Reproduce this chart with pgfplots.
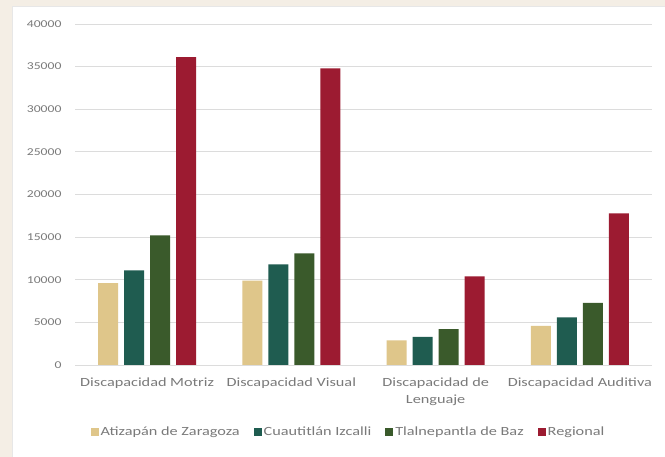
\documentclass[border=0pt]{standalone}
\usepackage{pgfplots}
\pgfplotsset{compat=1.18}
\usepackage{fontspec}
\setmainfont[FakeStretch=1.3]{Carlito}
\definecolor{cAtiz}{HTML}{DFC68A}
\definecolor{cCuau}{HTML}{1F5C50}
\definecolor{cTlal}{HTML}{3A5A2B}
\definecolor{cReg}{HTML}{9C1B31}
\definecolor{txt}{HTML}{7A7A7A}
\definecolor{gridc}{HTML}{DCDCDC}
\definecolor{bg}{HTML}{F4EEE5}
\begin{document}
\begin{tikzpicture}
\useasboundingbox (-75bp,-92bp) rectangle (590bp,365bp);
\fill[bg] (-75bp,-92bp) rectangle (590bp,365bp);
\fill[white] (-63bp,-92bp) rectangle (590bp,359bp);
\draw[gridc!70!white] (-63bp,-91.5bp) -- (-63bp,359bp) -- (590bp,359bp);
\begin{axis}[
  at={(0bp,0bp)}, anchor=south west,
  scale only axis,
  width=577bp, height=341bp,
  xmin=-0.5, xmax=3.5,
  ymin=0, ymax=40000,
  ytick={0,5000,...,40000},
  scaled y ticks=false,
  xtick={0,1,2,3},
  xticklabels={Discapacidad Motriz, Discapacidad Visual, {Discapacidad de\\Lenguaje}, Discapacidad Auditiva},
  xticklabel style={align=center, font=\fontsize{12.5bp}{17bp}\selectfont, text=txt, yshift=-9bp},
  yticklabel style={font=\fontsize{10.5bp}{12bp}\selectfont, text=txt, xshift=-10bp},
  /pgf/number format/.cd, 1000 sep={}, assume math mode=true, /pgfplots/.cd,
  major tick length=0pt,
  xmajorgrids=false,
  ymajorgrids=true,
  grid style={draw=gridc, line width=0.8bp},
  axis line style={draw=none},
  axis x line*=bottom,
  axis y line*=left,
  ybar=6bp,
  bar width=20bp,
  legend columns=4,
  legend style={at={(0.5,0)}, anchor=center, xshift=-15bp, yshift=-67bp, draw=none, fill=none,
    font=\fontsize{12.5bp}{14bp}\selectfont, text=txt,
    /tikz/every even column/.append style={column sep=12bp}},
  legend image code/.code={\fill[#1] (0bp,-4bp) rectangle (8bp,4bp);},
]
\addplot[fill=cAtiz, draw=none] coordinates {(0,9600) (1,9900) (2,2900) (3,4600)};
\addplot[fill=cCuau, draw=none] coordinates {(0,11100) (1,11800) (2,3300) (3,5600)};
\addplot[fill=cTlal, draw=none] coordinates {(0,15200) (1,13100) (2,4200) (3,7300)};
\addplot[fill=cReg, draw=none] coordinates {(0,36100) (1,34800) (2,10400) (3,17800)};
\legend{Atizapán de Zaragoza, Cuautitlán Izcalli, Tlalnepantla de Baz, Regional}
\draw[gridc, line width=0.8bp] (axis cs:-0.5,0) -- (axis cs:3.5,0);
\end{axis}
\end{tikzpicture}
\end{document}
